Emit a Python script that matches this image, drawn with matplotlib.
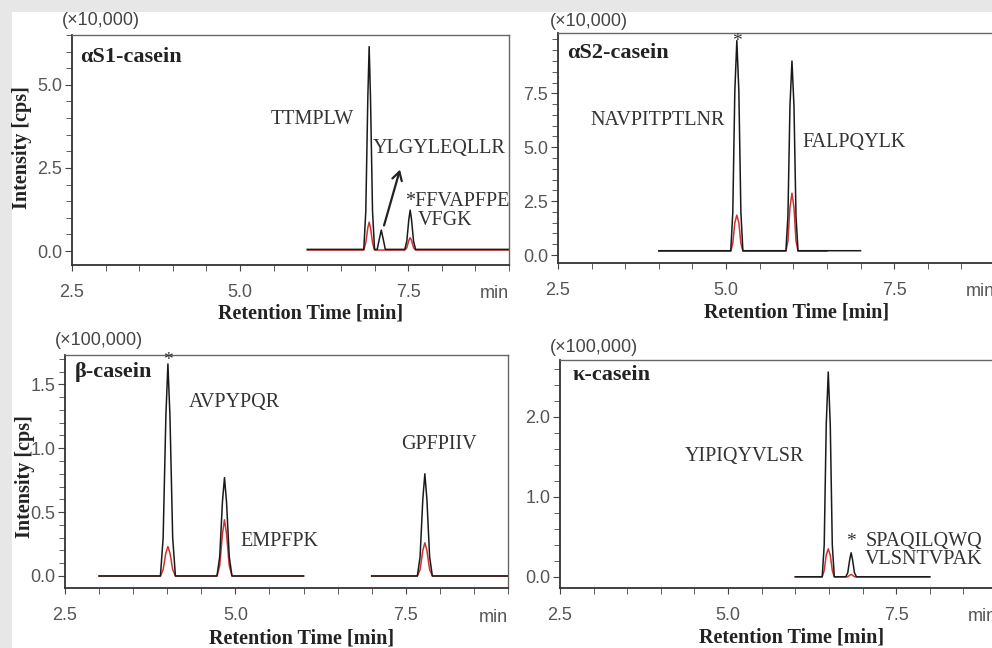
import numpy as np
import matplotlib
matplotlib.use("Agg")
import matplotlib.pyplot as plt
from matplotlib.patches import Rectangle
from matplotlib.ticker import MultipleLocator

plt.rcParams['font.family'] = ['Liberation Sans', 'DejaVu Sans']
SERIF = ['Liberation Serif', 'DejaVu Serif']
nan = np.nan

# ---- data (retention time in min, intensity in the panel's multiplier units) ----
# alpha S1-casein (x10,000)
t_as1_black = [6.00, 6.84, 6.87, 6.90, 6.92, 6.94, 6.97, 7.00, 7.04, 7.07, 7.10, 7.13, 7.16,
               7.45, 7.48, 7.51, 7.53, 7.55, 7.58, 7.61, 9.00]
y_as1_black = [0.05, 0.05, 1.20, 4.60, 6.15, 4.60, 1.20, 0.05, 0.05, 0.35, 0.63, 0.35, 0.05,
               0.05, 0.30, 0.95, 1.23, 0.95, 0.30, 0.05, 0.05]
t_as1_red = [6.00, 6.84, 6.87, 6.90, 6.92, 6.94, 6.97, 7.00, 7.45, 7.48, 7.51, 7.53, 7.55, 7.58, 7.61, 9.00]
y_as1_red = [0.03, 0.03, 0.25, 0.70, 0.87, 0.70, 0.25, 0.03, 0.03, 0.10, 0.32, 0.40, 0.32, 0.10, 0.03, 0.03]

# alpha S2-casein (x10,000)
t_as2_black = [4.00, 5.07, 5.10, 5.13, 5.16, 5.19, 5.22, 5.25, 5.89, 5.92, 5.95, 5.98, 6.01, 6.04, 6.07, 7.00]
y_as2_black = [0.20, 0.20, 2.00, 7.60, 9.95, 7.60, 2.00, 0.20, 0.20, 1.80, 6.90, 9.00, 6.90, 1.80, 0.20, 0.20]
t_as2_red = [4.00, 5.07, 5.10, 5.13, 5.16, 5.19, 5.22, 5.25, 5.89, 5.92, 5.95, 5.98, 6.01, 6.04, 6.07, 6.50]
y_as2_red = [0.18, 0.18, 0.55, 1.50, 1.85, 1.50, 0.55, 0.18, 0.18, 0.65, 2.20, 2.87, 2.20, 0.65, 0.18, 0.18]

# beta-casein (x100,000)
t_b_black = [3.00, 3.90, 3.94, 3.98, 4.01, 4.04, 4.08, 4.12, 4.73, 4.77, 4.81, 4.84, 4.87, 4.91, 4.95, 6.00,
             nan, 7.00, 7.67, 7.71, 7.75, 7.78, 7.81, 7.85, 7.89, 9.00]
y_b_black = [0.0, 0.0, 0.30, 1.25, 1.66, 1.25, 0.30, 0.0, 0.0, 0.15, 0.58, 0.77, 0.58, 0.15, 0.0, 0.0,
             nan, 0.0, 0.0, 0.15, 0.60, 0.80, 0.60, 0.15, 0.0, 0.0]
t_b_red = t_b_black
y_b_red = [0.0, 0.0, 0.05, 0.18, 0.23, 0.18, 0.05, 0.0, 0.0, 0.08, 0.33, 0.44, 0.33, 0.08, 0.0, 0.0,
           nan, 0.0, 0.0, 0.05, 0.20, 0.26, 0.20, 0.05, 0.0, 0.0]

# kappa-casein (x100,000)
t_k_black = [6.00, 6.40, 6.43, 6.46, 6.49, 6.52, 6.55, 6.58, 6.75, 6.78, 6.81, 6.83, 6.85, 6.88, 6.91, 8.00]
y_k_black = [0.0, 0.0, 0.40, 1.90, 2.56, 1.90, 0.40, 0.0, 0.0, 0.05, 0.22, 0.30, 0.22, 0.05, 0.0, 0.0]
t_k_red = t_k_black
y_k_red = [0.0, 0.0, 0.08, 0.27, 0.35, 0.27, 0.08, 0.0, 0.0, 0.0, 0.02, 0.03, 0.02, 0.0, 0.0, 0.0]

panels = [
    dict(box=(72, 35, 509, 265), ylim=(-0.42, 6.5), yticks=[0.0, 2.5, 5.0], yminor=0.5,
         name="αS1-casein", name_xy=(0.018, 0.904), mult="(×10,000)", mult_xy=(-0.023, 1.065),
         xlab_xy=(0.547, -0.209), ylab=True, ylab_xy=(-0.114, 0.51),
         black=(t_as1_black, y_as1_black), red=(t_as1_red, y_as1_red),
         labels=[("TTMPLW", 5.45, 3.95), ("YLGYLEQLLR", 6.98, 3.10),
                 ("*FFVAPFPE", 7.45, 1.48), ("VFGK", 7.65, 0.93)],
         stars=[]),
    dict(box=(558, 33, 995, 263), ylim=(-0.37, 10.3), yticks=[0.0, 2.5, 5.0, 7.5], yminor=0.5,
         name="αS2-casein", name_xy=(0.02, 0.913), mult="(×10,000)", mult_xy=(-0.018, 1.048),
         xlab_xy=(0.547, -0.217), ylab=False, ylab_xy=None,
         black=(t_as2_black, y_as2_black), red=(t_as2_red, y_as2_red),
         labels=[("NAVPITPTLNR", 2.98, 6.25), ("FALPQYLK", 6.13, 5.23)],
         stars=[(5.16, 9.9)]),
    dict(box=(65, 355, 508, 588), ylim=(-0.094, 1.73), yticks=[0.0, 0.5, 1.0, 1.5], yminor=0.1,
         name="β-casein", name_xy=(0.023, 0.927), mult="(×100,000)", mult_xy=(-0.023, 1.064),
         xlab_xy=(0.533, -0.215), ylab=True, ylab_xy=(-0.09, 0.48),
         black=(t_b_black, y_b_black), red=(t_b_red, y_b_red),
         labels=[("AVPYPQR", 4.31, 1.36), ("EMPFPK", 5.07, 0.27), ("GPFPIIV", 7.43, 1.03)],
         stars=[(4.01, 1.69)]),
    dict(box=(560, 360, 997, 588), ylim=(-0.14, 2.71), yticks=[0.0, 1.0, 2.0], yminor=0.2,
         name="κ-casein", name_xy=(0.03, 0.934), mult="(×100,000)", mult_xy=(-0.023, 1.053),
         xlab_xy=(0.53, -0.219), ylab=False, ylab_xy=None,
         black=(t_k_black, y_k_black), red=(t_k_red, y_k_red),
         labels=[("YIPIQYVLSR", 4.36, 1.50), ("SPAQILQWQ", 7.04, 0.44), ("VLSNTVPAK", 7.04, 0.21)],
         stars=[(6.82, 0.44)]),
]

W, H = 992, 648
fig = plt.figure(figsize=(W / 100, H / 100), dpi=100, facecolor='#e7e7e7')
fig.add_artist(Rectangle((12 / W, 0), 1, 1 - 12 / H, transform=fig.transFigure,
                         facecolor='white', edgecolor='none', zorder=-10))

for p in panels:
    l, t, r, b = p['box']
    ax = fig.add_axes([l / W, 1 - b / H, (r - l) / W, (b - t) / H])
    ax.plot(*p['red'], color='#cc3333', lw=1.1)
    ax.plot(*p['black'], color='#1a1a1a', lw=1.1)
    ax.set_xlim(2.5, 9.0)
    ax.set_ylim(*p['ylim'])
    ax.set_xticks([2.5, 5.0, 7.5])
    ax.set_xticklabels(['2.5', '5.0', '7.5'])
    ax.xaxis.set_minor_locator(MultipleLocator(0.5))
    ax.set_yticks(p['yticks'])
    ax.set_yticklabels(['%.1f' % v for v in p['yticks']])
    ax.yaxis.set_minor_locator(MultipleLocator(p['yminor']))
    ax.tick_params(which='both', direction='out', color='#444', labelcolor='#555', labelsize=13)
    ax.tick_params(axis='x', which='major', length=4, pad=10)
    ax.tick_params(axis='x', which='minor', length=4)
    ax.tick_params(axis='y', which='major', length=5, pad=2)
    ax.tick_params(axis='y', which='minor', length=4)
    for s in ['top', 'right']:
        ax.spines[s].set_color('#666')
        ax.spines[s].set_linewidth(1.0)
    for s in ['left', 'bottom']:
        ax.spines[s].set_color('#333')
        ax.spines[s].set_linewidth(1.3)

    ax.text(1.0, -0.125, "min", transform=ax.transAxes, ha='right', va='center',
            fontsize=13, color='#555')
    ax.text(*p['name_xy'], p['name'], transform=ax.transAxes, ha='left', va='center',
            fontsize=16, fontweight='bold', family=SERIF, color='#222')
    ax.text(*p['mult_xy'], p['mult'], transform=ax.transAxes, ha='left', va='center',
            fontsize=13, color='#444')
    ax.text(*p['xlab_xy'], "Retention Time [min]", transform=ax.transAxes, ha='center',
            va='center', fontsize=14.5, fontweight='bold', family=SERIF, color='#222')
    if p['ylab']:
        ax.text(*p['ylab_xy'], "Intensity [cps]", transform=ax.transAxes, ha='center',
                va='center', rotation=90, fontsize=14.5, fontweight='bold', family=SERIF,
                color='#222')
    for txt, x, y in p['labels']:
        ax.text(x, y, txt, ha='left', va='center', fontsize=14.5, family=SERIF, color='#333')
    for x, y in p['stars']:
        ax.text(x, y, "*", ha='center', va='center', fontsize=14, family=SERIF, color='#333')

    if p['name'] == "αS1-casein":
        ax.annotate('', xy=(7.39, 2.53), xytext=(7.13, 0.69),
                    arrowprops=dict(arrowstyle='->,head_length=0.6,head_width=0.35',
                                    lw=1.6, color='#222'))

fig.savefig("out.png", dpi=100, facecolor=fig.get_facecolor())
